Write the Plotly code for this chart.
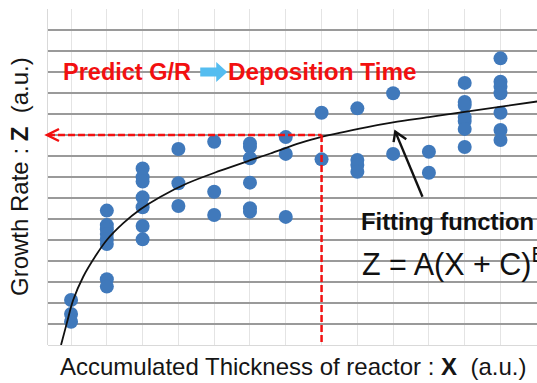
import plotly.graph_objects as go

# ---- data ----
thickness_levels = [1, 2, 3, 4, 5, 6, 7, 8, 9, 10, 11, 12, 13]
growth_rates = [
    [2.14, 1.48, 1.11],
    [6.40, 5.71, 5.51, 5.29, 5.03, 4.81, 3.13, 2.78],
    [8.41, 7.99, 7.78, 7.03, 6.56, 5.67, 5.03],
    [9.33, 7.70, 6.62],
    [9.68, 7.30, 6.19],
    [9.60, 9.44, 8.89, 7.73, 6.51, 6.35],
    [9.90, 9.10, 6.10],
    [11.06, 8.84],
    [11.27, 8.81, 8.57, 8.25],
    [11.99, 9.10],
    [9.20, 8.20],
    [12.48, 11.57, 11.43, 10.86, 10.67, 10.29, 9.43],
    [13.65, 12.54, 12.30, 11.99, 11.06, 10.24, 9.76],
]

# fitting curve
fit_x = [0.72, 0.88, 1.06, 1.34, 1.67, 2.00, 2.46, 2.93, 3.49, 4.25, 5.17,
         6.10, 6.57, 7.41, 7.97, 9.28, 10.0, 11.0, 12.0, 14.04]
fit_z = [0.0, 1.03, 2.14, 3.25, 4.20, 5.00, 5.80, 6.45, 7.05, 7.70, 8.30,
         8.85, 9.12, 9.62, 9.90, 10.38, 10.60, 10.85, 11.10, 11.60]

predict_x = 8.0
predict_z = 10.0
pointer_tip = (10.06, 10.16)
pointer_tail = (10.82, 7.06)

x_range = [0.356, 14.02]
y_range = [0, 16]

pts_x = [x for x, col in zip(thickness_levels, growth_rates) for _ in col]
pts_z = [z for col in growth_rates for z in col]

RED = "#f21010"
FONT = "Liberation Sans, Arial, sans-serif"

fig = go.Figure()
fig.add_trace(go.Scatter(
    x=pts_x, y=pts_z, mode="markers",
    marker=dict(size=14, color="#4079bb", line=dict(width=0)),
    showlegend=False, hoverinfo="skip"))
fig.add_trace(go.Scatter(
    x=fit_x, y=fit_z, mode="lines",
    line=dict(color="#111111", width=1.8, shape="spline", smoothing=1.0),
    showlegend=False, hoverinfo="skip"))

shapes = [
    # dashed prediction lines
    dict(type="line", xref="x", yref="y", x0=x_range[0], y0=predict_z,
         x1=predict_x, y1=predict_z, line=dict(color=RED, width=2.5, dash="7px,3px")),
    dict(type="line", xref="x", yref="y", x0=predict_x, y0=predict_z,
         x1=predict_x, y1=y_range[0], line=dict(color=RED, width=2.5, dash="7px,3px")),
    # red chevron at left end
    dict(type="path", xref="paper", yref="y", xsizemode="pixel", ysizemode="pixel",
         xanchor=0, yanchor=predict_z, path="M 11,6 L -1,0 L 11,-6",
         line=dict(color=RED, width=2.5)),
    # black pointer arrow
    dict(type="line", xref="x", yref="y", x0=pointer_tail[0], y0=pointer_tail[1],
         x1=pointer_tip[0], y1=pointer_tip[1], line=dict(color="#111111", width=2.4)),
    dict(type="path", xref="x", yref="y", xsizemode="pixel", ysizemode="pixel",
         xanchor=pointer_tip[0], yanchor=pointer_tip[1],
         path="M -1.7,-10.5 L 0,0 L 11,-7.5", line=dict(color="#111111", width=2.4)),
    # light blue block arrow
    dict(type="path", xref="x", yref="y", xsizemode="pixel", ysizemode="pixel",
         xanchor=4.61, yanchor=13.0,
         path="M 0,-4.5 L 16,-4.5 L 16,-10 L 27,0 L 16,10 L 16,4.5 L 0,4.5 Z",
         fillcolor="#55bdf0", line=dict(width=0)),
]

annotations = [
    dict(text="Accumulated Thickness of reactor : <b>X</b>&nbsp; (a.u.)",
         xref="paper", yref="paper", x=0.5, y=0, xanchor="center", yanchor="top",
         yshift=-6, showarrow=False, font=dict(family=FONT, size=24, color="#151515")),
    dict(text="Growth Rate : <b>Z</b>&nbsp; (a.u.)", textangle=-90,
         xref="paper", yref="paper", x=0, y=0.5, xanchor="center", yanchor="middle",
         xshift=-29, showarrow=False, font=dict(family=FONT, size=24, color="#151515")),
    dict(text="<b>Predict G/R</b>", xref="x", yref="y", x=0.72, y=13.02,
         xanchor="left", yanchor="middle", showarrow=False,
         font=dict(family=FONT, size=23.5, color=RED)),
    dict(text="<b>Deposition Time</b>", xref="x", yref="y", x=5.33, y=13.02,
         xanchor="left", yanchor="middle", showarrow=False,
         font=dict(family=FONT, size=24.3, color=RED)),
    dict(text="<b>Fitting function</b>", xref="x", yref="y", x=9.06, y=5.9,
         xanchor="left", yanchor="middle", showarrow=False,
         font=dict(family=FONT, size=23.8, color="#111111")),
    dict(text="Z = A(X + C)<sup>B</sup>", xref="x", yref="y", x=9.08, y=3.95,
         xanchor="left", yanchor="middle", showarrow=False,
         font=dict(family=FONT, size=30.5, color="#111111")),
]

fig.update_layout(
    width=537, height=383,
    margin=dict(l=48, r=0, t=9, b=38),
    paper_bgcolor="white", plot_bgcolor="white",
    shapes=shapes, annotations=annotations,
    xaxis=dict(range=x_range, tick0=0, dtick=1, showgrid=True, gridcolor="#e4e4e4",
               gridwidth=1, zeroline=False, showticklabels=False, ticks="",
               showline=False),
    yaxis=dict(range=y_range, tick0=0, dtick=1, showgrid=True, gridcolor="#9a9a9a",
               gridwidth=1.5, zeroline=True, zerolinecolor="#d9d9d9", zerolinewidth=1,
               showticklabels=False, ticks="", showline=True, linecolor="#d9d9d9",
               linewidth=1),
)

fig.write_html("out.html")
